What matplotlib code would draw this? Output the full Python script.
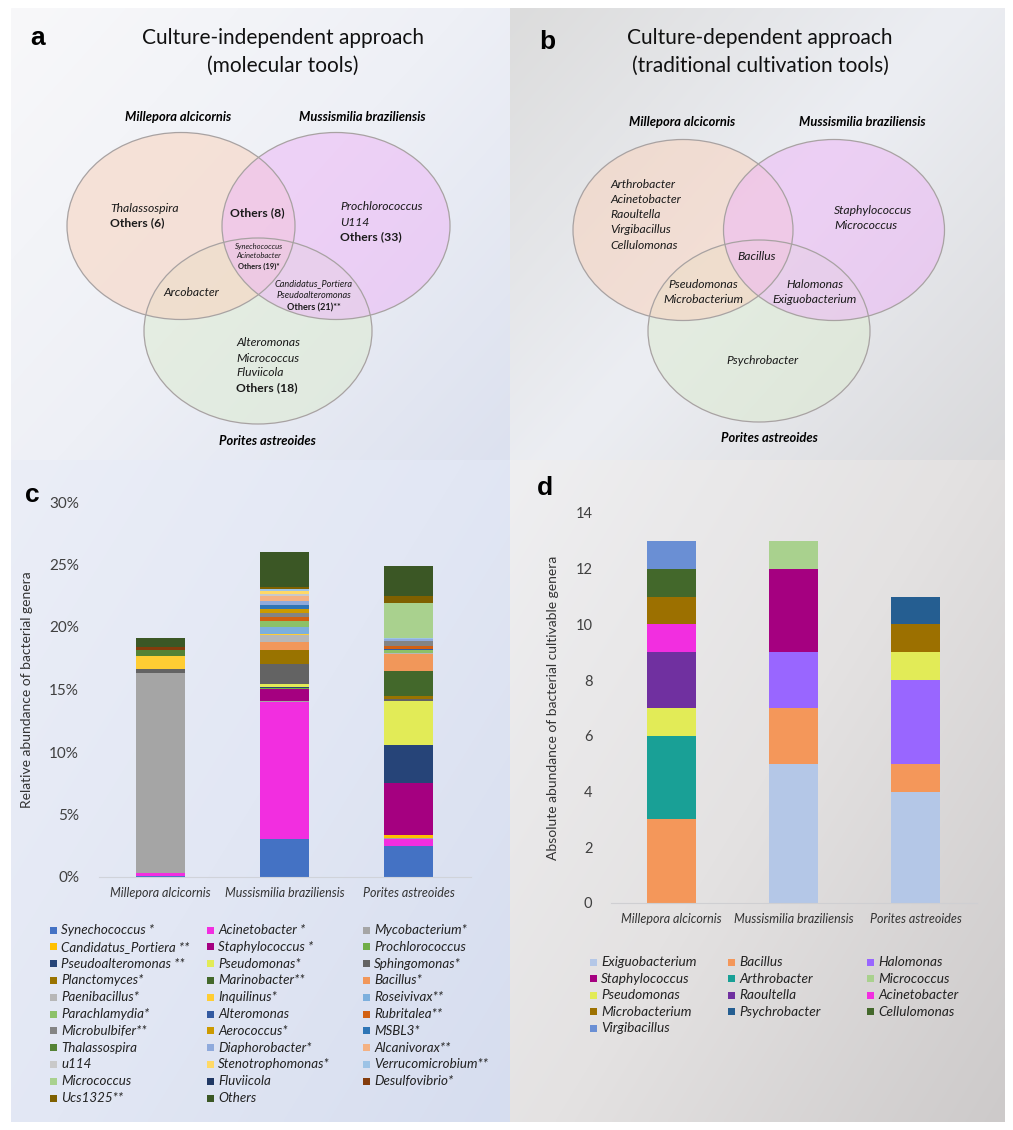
import numpy as np
import matplotlib
matplotlib.use("Agg")
import matplotlib.pyplot as plt
from matplotlib.patches import Ellipse, Rectangle
from matplotlib.colors import to_rgb

W, H = 1013, 1130
plt.rcParams['font.family'] = ['Lato', 'DejaVu Sans']

corals = ["Millepora alcicornis", "Mussismilia braziliensis", "Porites astreoides"]

# ---- panel c: relative abundance (%) of genera, molecular tools
genera_c = ["Synechococcus *", "Acinetobacter *", "Mycobacterium*",
            "Candidatus_Portiera **", "Staphylococcus *", "Prochlorococcus",
            "Pseudoalteromonas **", "Pseudomonas*", "Sphingomonas*",
            "Planctomyces*", "Marinobacter**", "Bacillus*",
            "Paenibacillus*", "Inquilinus*", "Roseivivax**",
            "Parachlamydia*", "Alteromonas", "Rubritalea**",
            "Microbulbifer**", "Aerococcus*", "MSBL3*",
            "Thalassospira", "Diaphorobacter*", "Alcanivorax**",
            "u114", "Stenotrophomonas*", "Verrucomicrobium**",
            "Micrococcus", "Fluviicola", "Desulfovibrio*",
            "Ucs1325**", "Others"]
colors_c = ["#4472C4", "#F22EE0", "#A5A5A5",
            "#FFC000", "#A50080", "#70AD47",
            "#264478", "#E2EB57", "#636363",
            "#997300", "#43682B", "#F1975A",
            "#B7B7B7", "#FFCD33", "#7CAFDD",
            "#8CC168", "#335AA1", "#D26012",
            "#848484", "#CC9A00", "#2E75B6",
            "#548235", "#8FAADC", "#F4B183",
            "#C9C9C9", "#FFD966", "#9DC3E6",
            "#A9D18E", "#203864", "#843C0C",
            "#7F6000", "#3B5725"]
millepora_c = [0.10, 0.20, 16.0, 0, 0, 0, 0, 0, 0.35, 0, 0, 0,
               0, 1.0, 0, 0, 0, 0, 0, 0, 0, 0.50, 0, 0,
               0, 0, 0, 0, 0, 0.22, 0, 0.72]
mussismilia_c = [3.05, 10.95, 0.12, 0, 0.95, 0.05, 0.05, 0.25, 1.60, 1.15, 0.02, 0.60,
                 0.60, 0.05, 0.60, 0.45, 0, 0.30, 0.35, 0.33, 0.32, 0, 0.28, 0.45,
                 0.12, 0.28, 0.15, 0, 0, 0, 0.12, 2.80]
porites_c = [2.50, 0.55, 0.05, 0.30, 4.15, 0, 3.05, 3.50, 0.15, 0.20, 2.00, 1.40,
             0.05, 0.05, 0, 0.20, 0.10, 0.25, 0.35, 0.05, 0, 0, 0.15, 0,
             0, 0, 0.05, 2.80, 0.05, 0, 0.50, 2.40]

# ---- panel d: absolute abundance of cultivable genera
genera_d = ["Exiguobacterium", "Bacillus", "Halomonas",
            "Staphylococcus", "Arthrobacter", "Micrococcus",
            "Pseudomonas", "Raoultella", "Acinetobacter",
            "Microbacterium", "Psychrobacter", "Cellulomonas",
            "Virgibacillus"]
colors_d = ["#B4C7E7", "#F4975A", "#9966FF",
            "#A50080", "#19A096", "#A9D18E",
            "#E2EB57", "#7030A0", "#F22EE0",
            "#9C7000", "#255E91", "#43682B",
            "#6A8FD4"]
millepora_d = [0, 3, 0, 0, 3, 0, 1, 2, 1, 1, 0, 1, 1]
mussismilia_d = [5, 2, 2, 3, 0, 1, 0, 0, 0, 0, 0, 0, 0]
porites_d = [4, 1, 3, 0, 0, 0, 1, 0, 0, 1, 1, 0, 0]

fig = plt.figure(figsize=(W / 100, H / 100), dpi=100)


def px_axes(x0, y0, x1, y1):
    return fig.add_axes([x0 / W, 1 - y1 / H, (x1 - x0) / W, (y1 - y0) / H])


def background(box, stops):
    ax = px_axes(*box)
    t = np.linspace(0, 1, 200)
    g = t[None, :] * 0.55 + t[:, None] * 0.45
    c = [np.array(to_rgb(s)) for s in stops]
    lo = np.clip(g * 2, 0, 1)[..., None]
    hi = np.clip(g * 2 - 1, 0, 1)[..., None]
    img = np.where(g[..., None] < 0.5, c[0] * (1 - lo) + c[1] * lo, c[1] * (1 - hi) + c[2] * hi)
    ax.imshow(img, aspect='auto', extent=[0, 1, 1, 0], interpolation='bilinear')
    ax.axis('off')


background((11, 8, 510, 460), ["#F8F8FA", "#EEF0F6", "#DCE1EF"])
background((510, 8, 1004, 460), ["#DCDCDC", "#ECEEF3", "#D9D9DB"])
background((11, 460, 510, 1122), ["#EBEEF7", "#E2E7F4", "#D6DDEF"])
background((510, 460, 1004, 1122), ["#EFEFF1", "#E4E2E2", "#CDCACA"])

ov = fig.add_axes([0, 0, 1, 1])
ov.set_xlim(0, W)
ov.set_ylim(H, 0)
ov.axis('off')

venn_fill = ["#F9D3BE", "#EDB8F6", "#DDEBD2"]
venn_order = [2, 0, 1]  # Porites underneath, Mussismilia on top


def draw_venn(ellipses):
    for k in venn_order:
        cx, cy, w, h = ellipses[k]
        ov.add_patch(Ellipse((cx, cy), w, h, facecolor=venn_fill[k], alpha=0.55, edgecolor='none'))
    for cx, cy, w, h in ellipses:
        ov.add_patch(Ellipse((cx, cy), w, h, facecolor='none', edgecolor='#A8A2A2', lw=0.9))


# ---- panel a
ov.text(38, 38, "a", fontsize=19, fontweight='bold', family='Liberation Sans', ha='center', va='center')
ov.text(283, 38, "Culture-independent approach", fontsize=15, ha='center', va='center', color='#111111')
ov.text(283, 66, "(molecular tools)", fontsize=15, ha='center', va='center', color='#111111')
draw_venn([(181, 226, 228, 187), (336, 226, 228, 187), (258, 331, 228, 186)])
for name, x, y in zip(corals, [178, 362, 267], [117, 117, 441]):
    ov.text(x, y, name, fontsize=9.3, fontweight='bold', style='italic', ha='center', va='center')

regions_a = [
    (110, 208, "left", [("Thalassospira", 'i', 8.7), ("Others (6)", 'b', 8.7)]),
    (257, 213, "center", [("Others (8)", 'b', 8.7)]),
    (340, 207, "left", [("Prochlorococcus", 'i', 8.7), ("U114", 'i', 8.7), ("Others (33)", 'b', 8.7)]),
    (259, 246, "center", [("Synechococcus", 'i', 5.5), ("Acinetobacter", 'i', 5.5), ("Others (19)*", 'b', 5.5)]),
    (314, 284, "center", [("Candidatus_Portiera", 'i', 6.6), ("Pseudoalteromonas", 'i', 6.6), ("Others (21)**", 'b', 6.6)]),
    (191, 293, "center", [("Arcobacter", 'i', 8.7)]),
    (236, 343, "left", [("Alteromonas", 'i', 8.7), ("Micrococcus", 'i', 8.7), ("Fluviicola", 'i', 8.7), ("Others (18)", 'b', 8.7)]),
]
for x, y, ha, lines in regions_a:
    step = 15 if lines[0][2] > 7 else (12 if lines[0][2] > 6 else 10)
    for k, (txt, st, fs) in enumerate(lines):
        ov.text(x, y + k * step, txt, fontsize=fs, ha=ha, va='center', color='#1a1a1a',
                style='italic' if st == 'i' else 'normal',
                fontweight='bold' if st == 'b' else 'normal')

# ---- panel b
ov.text(547, 42, "b", fontsize=19, fontweight='bold', family='Liberation Sans', ha='center', va='center')
ov.text(760, 38, "Culture-dependent approach", fontsize=15, ha='center', va='center', color='#111111')
ov.text(760, 66, "(traditional cultivation tools)", fontsize=15, ha='center', va='center', color='#111111')
draw_venn([(683, 230, 220, 181), (834, 230, 221, 181), (759, 331, 222, 182)])
for name, x, y in zip(corals, [682, 862, 769], [122, 122, 438]):
    ov.text(x, y, name, fontsize=9.3, fontweight='bold', style='italic', ha='center', va='center')

regions_b = [
    (610, 184, "left", ["Arthrobacter", "Acinetobacter", "Raoultella", "Virgibacillus", "Cellulomonas"]),
    (834, 210, "left", ["Staphylococcus", "Micrococcus"]),
    (757, 257, "center", ["Bacillus"]),
    (703, 284, "center", ["Pseudomonas", "Microbacterium"]),
    (815, 284, "center", ["Halomonas", "Exiguobacterium"]),
    (762, 361, "center", ["Psychrobacter"]),
]
for x, y, ha, lines in regions_b:
    for k, txt in enumerate(lines):
        ov.text(x, y + k * 15.3, txt, fontsize=8.7, ha=ha, va='center', style='italic', color='#1a1a1a')

# ---- panel c
ov.text(32, 495, "c", fontsize=19, fontweight='bold', family='Liberation Sans', ha='center', va='center')
axc = px_axes(98.5, 502, 470.5, 877)
axc.patch.set_alpha(0)
data_c = np.array([millepora_c, mussismilia_c, porites_c]) / 100
x = np.arange(len(corals))
bottom = np.zeros(len(corals))
for i, (g, col) in enumerate(zip(genera_c, colors_c)):
    axc.bar(x, data_c[:, i], 0.395, bottom=bottom, color=col, edgecolor='none')
    bottom += data_c[:, i]
axc.set_xlim(-0.5, 2.5)
axc.set_ylim(0, 0.30)
axc.set_yticks(np.arange(0, 0.31, 0.05))
axc.set_yticklabels([f"{int(round(v * 100))}%" for v in np.arange(0, 0.31, 0.05)])
axc.set_xticks(x)
axc.set_xticklabels(corals, style='italic', fontsize=9, color='#333333')
axc.tick_params(axis='y', length=0, pad=14, labelsize=11, labelcolor='#404040')
axc.tick_params(axis='x', length=0, pad=7)
for s in ['top', 'right', 'left']:
    axc.spines[s].set_visible(False)
axc.spines['bottom'].set_color('#D0D3DA')
axc.set_ylabel("Relative abundance of bacterial genera", fontsize=10, color='#333333', labelpad=12)

for i, (g, col) in enumerate(zip(genera_c, colors_c)):
    r, cidx = divmod(i, 3)
    lx = [50, 207, 363][cidx]
    ly = 930 + r * 16.8
    ov.add_patch(Rectangle((lx, ly - 3.5), 7, 7, facecolor=col, edgecolor='none'))
    ov.text(lx + 11, ly, g, fontsize=9.6, style='italic', va='center', ha='left', color='#222222')

# ---- panel d
ov.text(545, 488, "d", fontsize=19, fontweight='bold', family='Liberation Sans', ha='center', va='center')
axd = px_axes(610.5, 513, 976.5, 903)
axd.patch.set_alpha(0)
data_d = np.array([millepora_d, mussismilia_d, porites_d], dtype=float)
bottom = np.zeros(len(corals))
for i, (g, col) in enumerate(zip(genera_d, colors_d)):
    axd.bar(x, data_d[:, i], 0.40, bottom=bottom, color=col, edgecolor='none')
    bottom += data_d[:, i]
axd.set_xlim(-0.5, 2.5)
axd.set_ylim(0, 14)
axd.set_yticks(range(0, 15, 2))
axd.set_xticks(x)
axd.set_xticklabels(corals, style='italic', fontsize=9, color='#333333')
axd.tick_params(axis='y', length=0, pad=13, labelsize=10.5, labelcolor='#404040')
axd.tick_params(axis='x', length=0, pad=7)
for s in ['top', 'right', 'left']:
    axd.spines[s].set_visible(False)
axd.spines['bottom'].set_color('#CFCFD2')
axd.set_ylabel("Absolute abundance of bacterial cultivable genera", fontsize=10, color='#333333', labelpad=12)

for i, (g, col) in enumerate(zip(genera_d, colors_d)):
    r, cidx = divmod(i, 3)
    lx = [590, 728, 867][cidx]
    ly = 962 + r * 16.6
    ov.add_patch(Rectangle((lx, ly - 3.5), 7, 7, facecolor=col, edgecolor='none'))
    ov.text(lx + 11, ly, g, fontsize=9.8, style='italic', va='center', ha='left', color='#222222')

fig.savefig("out.png", dpi=100)
